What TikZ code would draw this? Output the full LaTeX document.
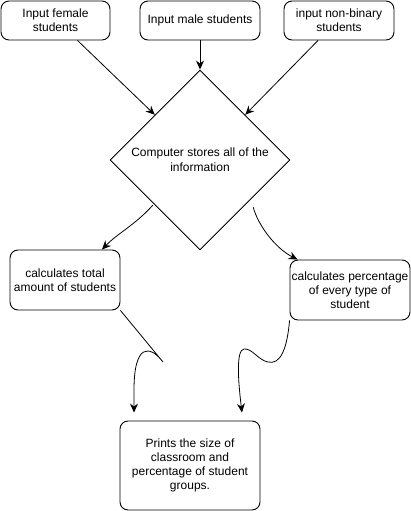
\documentclass[tikz,border=0pt]{standalone}
\usepackage{fontspec}
\setmainfont{Liberation Sans}
\usetikzlibrary{shapes.geometric,arrows.meta}
\begin{document}
\begin{tikzpicture}[x=1pt,y=-1pt,
  box/.style={draw,rounded corners=8pt,line width=0.9pt,align=center,inner sep=0pt,
    font=\fontsize{12}{14}\selectfont},
  dia/.style={draw,diamond,line width=0.9pt,align=center,inner sep=0pt,
    minimum width=180pt,minimum height=180pt,font=\fontsize{12}{15}\selectfont},
  conn/.style={line width=0.8pt,-{Stealth[length=9pt,width=8pt,inset=3pt]}}]
\useasboundingbox (0,0) rectangle (411,511);
\node[box,minimum width=109pt,minimum height=39pt] (b1) at (55.5,20.5) {Input female\\students};
\node[box,minimum width=120pt,minimum height=39pt] (b2) at (200,20.5) {Input male students};
\node[box,minimum width=110pt,minimum height=39pt] (b3) at (339,20.5) {input non-binary\\students};
\node[dia] (d) at (200,160) {};
\node[font=\fontsize{12}{15}\selectfont,align=center] (dt) at (200,160) {Computer stores all of the\\information};
\node[box,minimum width=110pt,minimum height=60pt] (lb) at (65,280) {calculates total\\amount of students};
\node[box,minimum width=120pt,minimum height=60pt] (rb) at (350,290) {calculates percentage\\of every type of\\student};
\node[box,minimum width=140pt,minimum height=89pt] (bb) at (190,465.5) {Prints the size of\\classroom and\\percentage of student\\groups.};
\coordinate (c1) at (163,362);
\draw[conn] ([xshift=22pt]b1.south) -- (d.north west);
\draw[conn] (b2.south) -- (d.north);
\draw[conn] ([xshift=-21pt]b3.south) -- (d.north east);
\draw[conn] ([xshift=-2pt]d.south west) .. controls (135,225) and (118,233) .. ([xshift=37pt]lb.north);
\draw[conn] ([xshift=8pt,yshift=-2pt]d.south east) .. controls (258,225) and (275,248) .. ([xshift=8pt]rb.north west);
\draw[conn] (lb.south east) -- (c1) .. controls (150,345) and (134,343) .. (134,390) -- ([xshift=-56pt,yshift=8pt]bb.north);
\draw[conn] (rb.south west) .. controls (287,350) and (280,365) .. (268,362)
  .. controls (258,360) and (252,348) .. (244,349)
  .. controls (236,350) and (238,380) .. ([xshift=52pt,yshift=8pt]bb.north);
\end{tikzpicture}
\end{document}
